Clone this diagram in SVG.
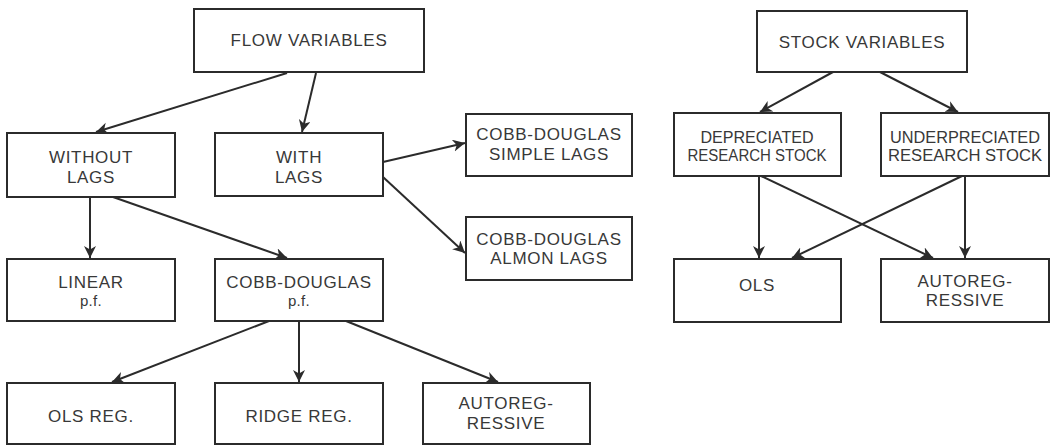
<svg xmlns="http://www.w3.org/2000/svg" width="1053" height="446" viewBox="0 0 1053 446">
<style>
.box{fill:none;stroke:#2b2b2b;stroke-width:2}
.t{font-family:"Liberation Sans",Arial,sans-serif;font-size:17px;fill:#383838;text-anchor:middle;letter-spacing:0.7px}
.s{font-size:16px;letter-spacing:0}
.pf{font-size:15px;letter-spacing:0.3px}
.c line{stroke:#2b2b2b;stroke-width:2;marker-end:url(#ah)}
</style>
<defs>
<marker id="ah" markerUnits="userSpaceOnUse" markerWidth="14" markerHeight="14" refX="12" refY="6" orient="auto">
<path d="M0,0 L12,6 L0,12 L3.5,6 Z" fill="#2b2b2b"/>
</marker>
</defs>
<rect width="1053" height="446" fill="#ffffff"/>
<g class="c" id="connectors">
<line x1="287" y1="73" x2="96" y2="132"/>
<line x1="316" y1="73" x2="302" y2="132"/>
<line x1="383" y1="162" x2="465" y2="143"/>
<line x1="383" y1="177" x2="465" y2="253"/>
<line x1="90" y1="197" x2="90" y2="258"/>
<line x1="113" y1="197" x2="287" y2="258"/>
<line x1="269" y1="321" x2="112" y2="382"/>
<line x1="299" y1="321" x2="299" y2="382"/>
<line x1="346" y1="321" x2="498" y2="382"/>
<line x1="833" y1="72" x2="760" y2="112"/>
<line x1="880" y1="72" x2="958" y2="112"/>
<line x1="759" y1="176" x2="759" y2="258"/>
<line x1="761" y1="176" x2="933" y2="258"/>
<line x1="962" y1="176" x2="792" y2="258"/>
<line x1="965" y1="176" x2="965" y2="258"/>
</g>
<g id="flow"><rect class="box" x="194" y="9" width="230" height="63"/><text class="t" x="309" y="46">FLOW VARIABLES</text></g>
<g id="without"><rect class="box" x="7" y="133" width="168" height="64"/><text class="t" x="91" y="163">WITHOUT</text><text class="t" x="91" y="183">LAGS</text></g>
<g id="with"><rect class="box" x="215" y="133" width="168" height="63"/><text class="t" x="299" y="163">WITH</text><text class="t" x="299" y="183">LAGS</text></g>
<g id="simple"><rect class="box" x="466" y="114" width="166" height="62"/><text class="t" x="549" y="140">COBB-DOUGLAS</text><text class="t" x="549" y="160">SIMPLE LAGS</text></g>
<g id="almon"><rect class="box" x="466" y="217" width="166" height="63"/><text class="t" x="549" y="245">COBB-DOUGLAS</text><text class="t" x="549" y="264">ALMON LAGS</text></g>
<g id="linear"><rect class="box" x="7" y="259" width="168" height="62"/><text class="t" x="91" y="288">LINEAR</text><text class="t pf" x="91" y="306">p.f.</text></g>
<g id="cdpf"><rect class="box" x="215" y="259" width="168" height="62"/><text class="t" x="299" y="288">COBB-DOUGLAS</text><text class="t pf" x="299" y="306">p.f.</text></g>
<g id="olsreg"><rect class="box" x="7" y="383" width="168" height="61"/><text class="t" x="91" y="422">OLS REG.</text></g>
<g id="ridge"><rect class="box" x="215" y="383" width="168" height="61"/><text class="t" x="299" y="422">RIDGE REG.</text></g>
<g id="autoreg1"><rect class="box" x="423" y="383" width="167" height="61"/><text class="t" x="506" y="409">AUTOREG-</text><text class="t" x="506" y="429">RESSIVE</text></g>
<g id="stock"><rect class="box" x="757" y="11" width="210" height="61"/><text class="t" x="862" y="48">STOCK VARIABLES</text></g>
<g id="deprec"><rect class="box" x="674" y="113" width="167" height="63"/><text class="t s" x="757" y="143" textLength="113" lengthAdjust="spacingAndGlyphs">DEPRECIATED</text><text class="t s" x="757" y="161" textLength="139" lengthAdjust="spacingAndGlyphs">RESEARCH STOCK</text></g>
<g id="underp"><rect class="box" x="881" y="113" width="168" height="63"/><text class="t s" x="965" y="143" textLength="150" lengthAdjust="spacingAndGlyphs">UNDERPRECIATED</text><text class="t s" x="965" y="161" textLength="154" lengthAdjust="spacingAndGlyphs">RESEARCH STOCK</text></g>
<g id="ols"><rect class="box" x="674" y="259" width="167" height="63"/><text class="t" x="757" y="291">OLS</text></g>
<g id="autoreg2"><rect class="box" x="881" y="259" width="168" height="63"/><text class="t" x="965" y="287">AUTOREG-</text><text class="t" x="965" y="306">RESSIVE</text></g>
</svg>
